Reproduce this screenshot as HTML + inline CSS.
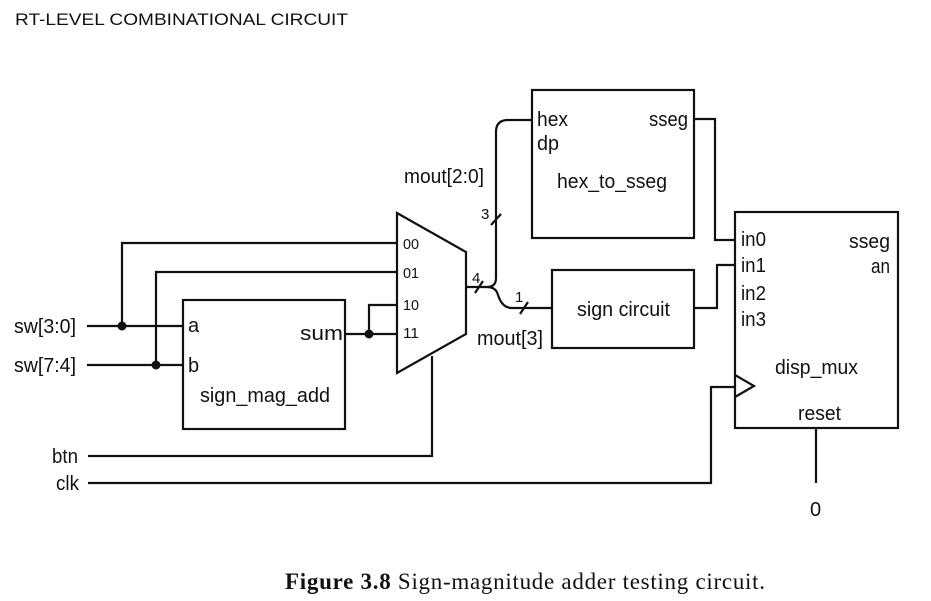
<!DOCTYPE html>
<html><head><style>
body{margin:0;background:#fff;}
svg{display:block;}
text{font-family:"Liberation Sans",Arial,sans-serif;fill:#111;}
</style></head><body>
<svg width="931" height="601" viewBox="0 0 931 601" xmlns="http://www.w3.org/2000/svg">
<g stroke="#111" stroke-width="2.2" fill="none">
<polygon points="397,213 466,252 466,334 397,373"/>
<rect x="183" y="300" width="162" height="129"/>
<rect x="532" y="90" width="162" height="148"/>
<rect x="552" y="270" width="142" height="78"/>
<rect x="735" y="212" width="163" height="216"/>
<polyline points="735,375 754,386 735,397"/>
<line x1="87" y1="326" x2="183" y2="326"/>
<line x1="87" y1="365" x2="183" y2="365"/>
<polyline points="122,326 122,243 397,243"/>
<polyline points="156,365 156,272 397,272"/>
<line x1="345" y1="334" x2="397" y2="334"/>
<polyline points="369,334 369,305 397,305"/>
<polyline points="88,456 432,456 432,356"/>
<polyline points="88,483 711,483 711,387 735,387"/>
<path d="M466,287 H487 Q496,287 496,278 V132 Q496,120 508,120 H532"/>
<path d="M487,287 Q496,287 498,295 Q502,308 512,308 H552"/>
<line x1="475" y1="293" x2="483" y2="281"/>
<line x1="491" y1="225" x2="501" y2="214"/>
<line x1="520" y1="314" x2="528" y2="302"/>
<polyline points="694,119 715,119 715,240 735,240"/>
<polyline points="694,308 717,308 717,265 735,265"/>
<line x1="816" y1="428" x2="816" y2="483"/>
</g>
<circle cx="122" cy="326" r="4.5" fill="#111"/>
<circle cx="156" cy="365" r="4.5" fill="#111"/>
<circle cx="369" cy="334" r="4.5" fill="#111"/>
<text x="15" y="25" font-size="17" textLength="333" lengthAdjust="spacingAndGlyphs">RT-LEVEL COMBINATIONAL CIRCUIT</text>
<g font-size="20">
<text x="14" y="333" textLength="62" lengthAdjust="spacingAndGlyphs">sw[3:0]</text>
<text x="14" y="372" textLength="62" lengthAdjust="spacingAndGlyphs">sw[7:4]</text>
<text x="52" y="463" textLength="26" lengthAdjust="spacingAndGlyphs">btn</text>
<text x="56" y="490" textLength="23" lengthAdjust="spacingAndGlyphs">clk</text>
<text x="188" y="332">a</text>
<text x="188" y="372">b</text>
<text x="300" y="340" textLength="43" lengthAdjust="spacingAndGlyphs">sum</text>
<text x="200" y="402" textLength="130" lengthAdjust="spacingAndGlyphs">sign_mag_add</text>
<text x="537" y="126" textLength="31" lengthAdjust="spacingAndGlyphs">hex</text>
<text x="537" y="150" textLength="22" lengthAdjust="spacingAndGlyphs">dp</text>
<text x="649" y="126" textLength="39" lengthAdjust="spacingAndGlyphs">sseg</text>
<text x="557" y="188" textLength="110" lengthAdjust="spacingAndGlyphs">hex_to_sseg</text>
<text x="577" y="316" textLength="93" lengthAdjust="spacingAndGlyphs">sign circuit</text>
<text x="741" y="246" textLength="25" lengthAdjust="spacingAndGlyphs">in0</text>
<text x="741" y="272" textLength="25" lengthAdjust="spacingAndGlyphs">in1</text>
<text x="741" y="300" textLength="25" lengthAdjust="spacingAndGlyphs">in2</text>
<text x="741" y="326" textLength="25" lengthAdjust="spacingAndGlyphs">in3</text>
<text x="849" y="248" textLength="41" lengthAdjust="spacingAndGlyphs">sseg</text>
<text x="871" y="273" textLength="19" lengthAdjust="spacingAndGlyphs">an</text>
<text x="775" y="374" textLength="83" lengthAdjust="spacingAndGlyphs">disp_mux</text>
<text x="798" y="420" textLength="43" lengthAdjust="spacingAndGlyphs">reset</text>
<text x="810" y="516">0</text>
<text x="404" y="183" textLength="80" lengthAdjust="spacingAndGlyphs">mout[2:0]</text>
<text x="477" y="345" textLength="66" lengthAdjust="spacingAndGlyphs">mout[3]</text>
</g>
<g font-size="15">
<text x="403" y="249" textLength="16" lengthAdjust="spacingAndGlyphs">00</text>
<text x="403" y="278" textLength="16" lengthAdjust="spacingAndGlyphs">01</text>
<text x="403" y="310" textLength="16" lengthAdjust="spacingAndGlyphs">10</text>
<text x="403" y="338" textLength="16" lengthAdjust="spacingAndGlyphs">11</text>
<text x="472" y="283">4</text>
<text x="481" y="219">3</text>
<text x="515" y="302">1</text>
</g>
<text x="285" y="589" font-size="23" style="font-family:'Liberation Serif',serif" textLength="480" lengthAdjust="spacing"><tspan font-weight="bold">Figure 3.8</tspan>    Sign-magnitude adder testing circuit.</text>
</svg>
</body></html>
